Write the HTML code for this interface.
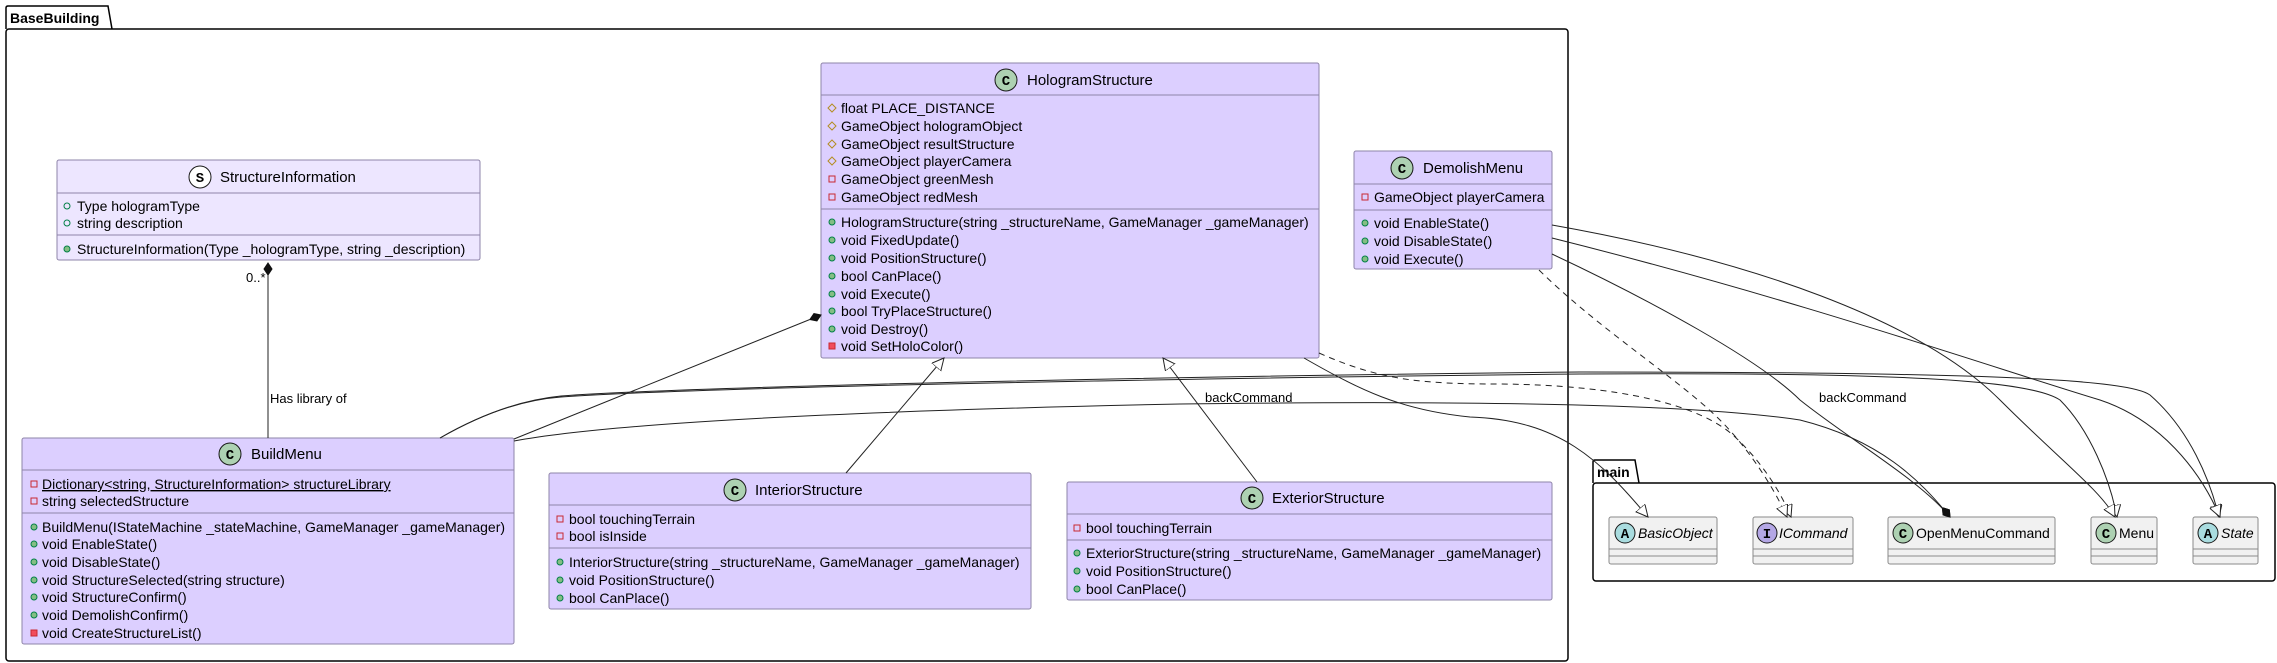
<!DOCTYPE html>
<html><head><meta charset="utf-8"><style>
html,body{margin:0;padding:0;background:#fff;}
svg{display:block;font-family:"Liberation Sans",sans-serif;}
.t{font-size:14px;fill:#000;}
.h{font-size:15px;fill:#000;}
.l{font-size:13px;fill:#000;}
.cls{fill:#DCCFFF;stroke:#8E84A8;stroke-width:1;}
.sep{stroke:#8E84A8;stroke-width:1;}
.e{fill:none;stroke:#222;stroke-width:1;}
.pm{fill:#84BE84;stroke:#038048;stroke-width:1;}
.pf{fill:none;stroke:#038048;stroke-width:1;}
.vf{fill:none;stroke:#C82930;stroke-width:1;}
.vm{fill:#F24D5C;stroke:#C82930;stroke-width:1;}
.rf{fill:none;stroke:#B38D22;stroke-width:1;}
.ci{stroke:#181818;stroke-width:1;}
.ct{font-size:14px;font-weight:bold;font-family:"Liberation Mono",monospace;text-anchor:middle;}
</style></head><body>
<svg width="2277" height="663" viewBox="0 0 2277 663" xmlns="http://www.w3.org/2000/svg">
<defs>
<marker id="tri" markerWidth="14" markerHeight="14" refX="12" refY="6" orient="auto" markerUnits="userSpaceOnUse">
<path d="M0,0 L12,6 L0,12 z" fill="#fff" stroke="#222"/></marker>
<marker id="dia" markerWidth="14" markerHeight="14" refX="12" refY="5" orient="auto" markerUnits="userSpaceOnUse">
<path d="M0,5 L6,1 L12,5 L6,9 z" fill="#111" stroke="#111"/></marker>
</defs>

<path d="M6,29 V8 Q6,6 8,6 H108 L112,29" fill="none" stroke="#000" stroke-width="1.5"/>
<rect x="6" y="29" width="1562" height="632" rx="3" fill="none" stroke="#000" stroke-width="1.5"/>
<text x="10" y="23" style="font-size:14px;font-weight:bold">BaseBuilding</text>
<path d="M1593,483 V462 Q1593,460 1595,460 H1635 L1639,483" fill="none" stroke="#000" stroke-width="1.5"/>
<rect x="1593" y="483" width="682" height="98" rx="3" fill="none" stroke="#000" stroke-width="1.5"/>
<text x="1597" y="477" style="font-size:14px;font-weight:bold">main</text>

<rect x="57" y="160" width="423" height="100" rx="2" fill="#EDE6FF" stroke="#8E84A8"/>
<line class="sep" x1="57" y1="193" x2="480" y2="193"/><line class="sep" x1="57" y1="235" x2="480" y2="235"/>
<circle class="ci" cx="200" cy="177" r="11" fill="#fff"/><text class="ct" x="200" y="182">S</text>
<text class="h" x="220" y="182">StructureInformation</text>
<circle class="pf" cx="67" cy="206" r="3"/><text class="t" x="77" y="211">Type hologramType</text>
<circle class="pf" cx="67" cy="223" r="3"/><text class="t" x="77" y="228">string description</text>
<circle class="pm" cx="67" cy="249" r="3"/><text class="t" x="77" y="254">StructureInformation(Type _hologramType, string _description)</text>

<rect class="cls" x="22" y="438" width="492" height="206" rx="2"/>
<line class="sep" x1="22" y1="470" x2="514" y2="470"/><line class="sep" x1="22" y1="513" x2="514" y2="513"/>
<circle class="ci" cx="230" cy="454" r="11" fill="#ADD1B2"/><text class="ct" x="230" y="459">C</text>
<text class="h" x="251" y="459">BuildMenu</text>
<rect class="vf" x="31" y="481" width="6" height="6"/><text class="t" x="42" y="489" text-decoration="underline">Dictionary&lt;string, StructureInformation&gt; structureLibrary</text>
<rect class="vf" x="31" y="498" width="6" height="6"/><text class="t" x="42" y="506">string selectedStructure</text>
<circle class="pm" cx="34" cy="527" r="3"/><text class="t" x="42" y="532">BuildMenu(IStateMachine _stateMachine, GameManager _gameManager)</text>
<circle class="pm" cx="34" cy="544" r="3"/><text class="t" x="42" y="549">void EnableState()</text>
<circle class="pm" cx="34" cy="562" r="3"/><text class="t" x="42" y="567">void DisableState()</text>
<circle class="pm" cx="34" cy="580" r="3"/><text class="t" x="42" y="585">void StructureSelected(string structure)</text>
<circle class="pm" cx="34" cy="597" r="3"/><text class="t" x="42" y="602">void StructureConfirm()</text>
<circle class="pm" cx="34" cy="615" r="3"/><text class="t" x="42" y="620">void DemolishConfirm()</text>
<rect class="vm" x="31" y="630" width="6" height="6"/><text class="t" x="42" y="638">void CreateStructureList()</text>

<rect class="cls" x="549" y="473" width="482" height="136" rx="2"/>
<line class="sep" x1="549" y1="505" x2="1031" y2="505"/><line class="sep" x1="549" y1="548" x2="1031" y2="548"/>
<circle class="ci" cx="735" cy="490" r="11" fill="#ADD1B2"/><text class="ct" x="735" y="495">C</text>
<text class="h" x="755" y="495">InteriorStructure</text>
<rect class="vf" x="557" y="516" width="6" height="6"/><text class="t" x="569" y="524">bool touchingTerrain</text>
<rect class="vf" x="557" y="533" width="6" height="6"/><text class="t" x="569" y="541">bool isInside</text>
<circle class="pm" cx="560" cy="562" r="3"/><text class="t" x="569" y="567">InteriorStructure(string _structureName, GameManager _gameManager)</text>
<circle class="pm" cx="560" cy="580" r="3"/><text class="t" x="569" y="585">void PositionStructure()</text>
<circle class="pm" cx="560" cy="598" r="3"/><text class="t" x="569" y="603">bool CanPlace()</text>

<rect class="cls" x="821" y="63" width="498" height="295" rx="2"/>
<line class="sep" x1="821" y1="95" x2="1319" y2="95"/><line class="sep" x1="821" y1="209" x2="1319" y2="209"/>
<circle class="ci" cx="1006" cy="80" r="11" fill="#ADD1B2"/><text class="ct" x="1006" y="85">C</text>
<text class="h" x="1027" y="85">HologramStructure</text>
<path class="rf" d="M832,104 l4,4 l-4,4 l-4,-4 z"/><text class="t" x="841" y="113">float PLACE_DISTANCE</text>
<path class="rf" d="M832,122 l4,4 l-4,4 l-4,-4 z"/><text class="t" x="841" y="131">GameObject hologramObject</text>
<path class="rf" d="M832,140 l4,4 l-4,4 l-4,-4 z"/><text class="t" x="841" y="149">GameObject resultStructure</text>
<path class="rf" d="M832,157 l4,4 l-4,4 l-4,-4 z"/><text class="t" x="841" y="166">GameObject playerCamera</text>
<rect class="vf" x="829" y="176" width="6" height="6"/><text class="t" x="841" y="184">GameObject greenMesh</text>
<rect class="vf" x="829" y="194" width="6" height="6"/><text class="t" x="841" y="202">GameObject redMesh</text>
<circle class="pm" cx="832" cy="222" r="3"/><text class="t" x="841" y="227">HologramStructure(string _structureName, GameManager _gameManager)</text>
<circle class="pm" cx="832" cy="240" r="3"/><text class="t" x="841" y="245">void FixedUpdate()</text>
<circle class="pm" cx="832" cy="258" r="3"/><text class="t" x="841" y="263">void PositionStructure()</text>
<circle class="pm" cx="832" cy="276" r="3"/><text class="t" x="841" y="281">bool CanPlace()</text>
<circle class="pm" cx="832" cy="294" r="3"/><text class="t" x="841" y="299">void Execute()</text>
<circle class="pm" cx="832" cy="311" r="3"/><text class="t" x="841" y="316">bool TryPlaceStructure()</text>
<circle class="pm" cx="832" cy="329" r="3"/><text class="t" x="841" y="334">void Destroy()</text>
<rect class="vm" x="829" y="343" width="6" height="6"/><text class="t" x="841" y="351">void SetHoloColor()</text>

<rect class="cls" x="1354" y="151" width="198" height="118" rx="2"/>
<line class="sep" x1="1354" y1="184" x2="1552" y2="184"/><line class="sep" x1="1354" y1="210" x2="1552" y2="210"/>
<circle class="ci" cx="1402" cy="168" r="11" fill="#ADD1B2"/><text class="ct" x="1402" y="173">C</text>
<text class="h" x="1423" y="173">DemolishMenu</text>
<rect class="vf" x="1362" y="194" width="6" height="6"/><text class="t" x="1374" y="202">GameObject playerCamera</text>
<circle class="pm" cx="1365" cy="223" r="3"/><text class="t" x="1374" y="228">void EnableState()</text>
<circle class="pm" cx="1365" cy="241" r="3"/><text class="t" x="1374" y="246">void DisableState()</text>
<circle class="pm" cx="1365" cy="259" r="3"/><text class="t" x="1374" y="264">void Execute()</text>

<rect class="cls" x="1067" y="482" width="485" height="118" rx="2"/>
<line class="sep" x1="1067" y1="514" x2="1552" y2="514"/><line class="sep" x1="1067" y1="540" x2="1552" y2="540"/>
<circle class="ci" cx="1252" cy="498" r="11" fill="#ADD1B2"/><text class="ct" x="1252" y="503">C</text>
<text class="h" x="1272" y="503">ExteriorStructure</text>
<rect class="vf" x="1074" y="525" width="6" height="6"/><text class="t" x="1086" y="533">bool touchingTerrain</text>
<circle class="pm" cx="1077" cy="553" r="3"/><text class="t" x="1086" y="558">ExteriorStructure(string _structureName, GameManager _gameManager)</text>
<circle class="pm" cx="1077" cy="571" r="3"/><text class="t" x="1086" y="576">void PositionStructure()</text>
<circle class="pm" cx="1077" cy="589" r="3"/><text class="t" x="1086" y="594">bool CanPlace()</text>

<g fill="#F1F1F1" stroke="#8a8a8a">
<rect x="1609" y="517" width="108" height="47" rx="2"/>
<rect x="1753" y="517" width="100" height="47" rx="2"/>
<rect x="1888" y="517" width="167" height="47" rx="2"/>
<rect x="2091" y="517" width="66" height="47" rx="2"/>
<rect x="2193" y="517" width="65" height="47" rx="2"/>
</g>
<g stroke="#8a8a8a">
<line x1="1609" y1="549" x2="1717" y2="549"/><line x1="1609" y1="556" x2="1717" y2="556"/>
<line x1="1753" y1="549" x2="1853" y2="549"/><line x1="1753" y1="556" x2="1853" y2="556"/>
<line x1="1888" y1="549" x2="2055" y2="549"/><line x1="1888" y1="556" x2="2055" y2="556"/>
<line x1="2091" y1="549" x2="2157" y2="549"/><line x1="2091" y1="556" x2="2157" y2="556"/>
<line x1="2193" y1="549" x2="2258" y2="549"/><line x1="2193" y1="556" x2="2258" y2="556"/>
</g>
<circle class="ci" cx="1625" cy="533" r="10" fill="#A9DCDF"/><text class="ct" x="1625" y="538">A</text>
<text class="t" x="1638" y="538" font-style="italic">BasicObject</text>
<circle class="ci" cx="1767" cy="533" r="10" fill="#B4A7E5"/><text class="ct" x="1767" y="538">I</text>
<text class="t" x="1779" y="538" font-style="italic">ICommand</text>
<circle class="ci" cx="1903" cy="533" r="10" fill="#ADD1B2"/><text class="ct" x="1903" y="538">C</text>
<text class="t" x="1916" y="538">OpenMenuCommand</text>
<circle class="ci" cx="2106" cy="533" r="10" fill="#ADD1B2"/><text class="ct" x="2106" y="538">C</text>
<text class="t" x="2119" y="538">Menu</text>
<circle class="ci" cx="2208" cy="533" r="10" fill="#A9DCDF"/><text class="ct" x="2208" y="538">A</text>
<text class="t" x="2221" y="538" font-style="italic">State</text>

<line class="e" x1="268" y1="438" x2="268" y2="263" marker-end="url(#dia)"/>
<text class="l" x="246" y="282">0..*</text>
<text class="l" x="270" y="403">Has library of</text>
<line class="e" x1="514" y1="439" x2="821" y2="315" marker-end="url(#dia)"/>
<line class="e" x1="846" y1="473" x2="944" y2="358" marker-end="url(#tri)"/>
<line class="e" x1="1257" y1="482" x2="1163" y2="358" marker-end="url(#tri)"/>
<path class="e" d="M440,438 C480,415 520,400 561,397 C700,387 1200,378 1580,374 C1900,372 2030,380 2060,400 C2090,430 2110,480 2117,517" marker-end="url(#tri)"/>
<path class="e" d="M440,438 C480,415 520,400 561,396 C700,386 1200,376 1580,372 C2000,372 2130,380 2150,395 C2190,430 2210,480 2219,517" marker-end="url(#tri)"/>
<path class="e" d="M514,441 C600,425 800,412 1180,404 C1500,400 1700,405 1800,420 C1880,440 1920,480 1950,517" marker-end="url(#dia)"/>
<text class="l" x="1205" y="402">backCommand</text>
<path class="e" d="M1304,358 C1360,390 1400,410 1470,417 C1560,420 1600,460 1648,517" marker-end="url(#tri)"/>
<path class="e" stroke-dasharray="6,5" d="M1319,353 C1380,380 1420,384 1500,384 C1620,385 1700,405 1734,436 C1760,460 1780,490 1791,517" marker-end="url(#tri)"/>
<path class="e" stroke-dasharray="6,5" d="M1539,270 C1600,330 1680,380 1720,420 C1750,450 1775,490 1787,517" marker-end="url(#tri)"/>
<path class="e" d="M1552,254 C1650,300 1760,360 1800,400 C1850,440 1920,480 1950,517" marker-end="url(#dia)"/>
<text class="l" x="1819" y="402">backCommand</text>
<path class="e" d="M1552,225 C1750,260 1920,320 2000,400 C2060,460 2100,490 2115,517" marker-end="url(#tri)"/>
<path class="e" d="M1552,238 C1800,300 2000,370 2100,400 C2160,420 2200,470 2220,517" marker-end="url(#tri)"/>
</svg>
</body></html>
